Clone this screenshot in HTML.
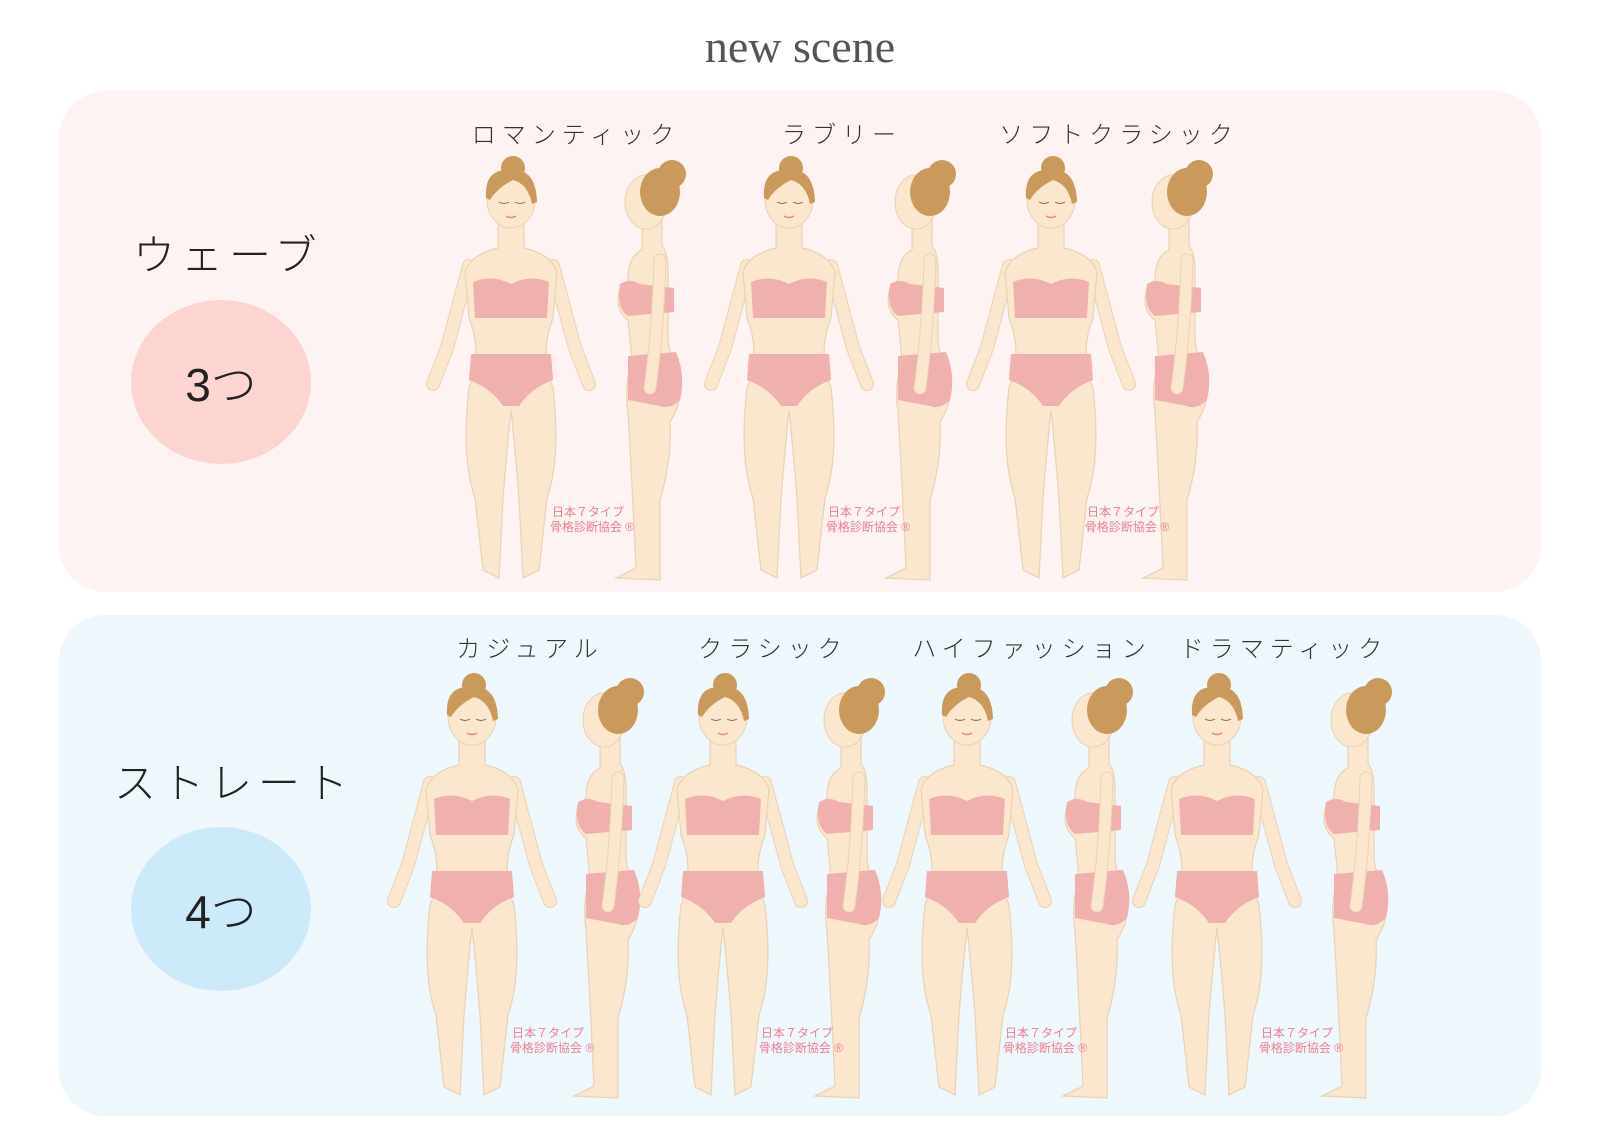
<!DOCTYPE html>
<html><head><meta charset="utf-8">
<style>
html,body{margin:0;padding:0;background:#fff;}
body{width:1600px;height:1131px;position:relative;overflow:hidden;font-family:"Liberation Sans","Noto Sans CJK JP",sans-serif;}
.title{position:absolute;left:0;width:1600px;top:20px;text-align:center;font-family:"Liberation Serif","Noto Serif CJK SC",serif;font-size:46px;color:#555;}
.panel{position:absolute;left:59px;width:1482px;border-radius:46px;}
.lab{position:absolute;font-size:24px;color:#333;letter-spacing:6px;white-space:nowrap;transform:translateX(-50%);font-weight:300;}
.big{position:absolute;font-size:42px;color:#222;letter-spacing:6px;white-space:nowrap;font-weight:300;}
.circ{position:absolute;border-radius:50%;display:flex;align-items:center;justify-content:center;font-size:46px;color:#222;font-weight:300;}
svg{position:absolute;left:0;top:0;}
</style></head><body>
<div class="title">new scene</div>
<div class="panel" style="top:91px;height:501px;background:#fdf3f2;"></div>
<div class="panel" style="top:615px;height:501px;background:#eef7fc;"></div>

<div class="big" style="left:133px;top:222px;">ウェーブ</div>
<div class="circ" style="left:131px;top:300px;width:180px;height:164px;background:#fcd5d0;">3つ</div>
<div class="big" style="left:114px;top:750px;">ストレート</div>
<div class="circ" style="left:131px;top:827px;width:180px;height:164px;background:#cdeafb;">4つ</div>

<div class="lab" style="left:576px;top:115px;">ロマンティック</div>
<div class="lab" style="left:842px;top:115px;">ラブリー</div>
<div class="lab" style="left:1119px;top:115px;">ソフトクラシック</div>
<div class="lab" style="left:530px;top:629px;">カジュアル</div>
<div class="lab" style="left:773px;top:629px;">クラシック</div>
<div class="lab" style="left:1032px;top:629px;">ハイファッション</div>
<div class="lab" style="left:1284px;top:629px;">ドラマティック</div>

<svg width="1600" height="1131" viewBox="0 0 1600 1131">
<defs>
<g id="front">
  <path d="M-42 108 Q-56 160 -64 190 L-78 226" fill="none" stroke="#ead2b4" stroke-width="14" stroke-linecap="round"/>
  <path d="M42 108 Q56 160 64 190 L78 226" fill="none" stroke="#ead2b4" stroke-width="14" stroke-linecap="round"/>
  <path d="M-42 108 Q-56 160 -64 190 L-78 226" fill="none" stroke="#fbe7cd" stroke-width="12" stroke-linecap="round"/>
  <path d="M42 108 Q56 160 64 190 L78 226" fill="none" stroke="#fbe7cd" stroke-width="12" stroke-linecap="round"/>
  <path d="M-13 62 L-13 90 Q-40 96 -46 114 L-42 160 Q-28 195 -42 230 Q-50 300 -36 340 L-28 412 L-12 420 L-8 340 Q-4 290 0 252 Q4 290 8 340 L12 420 L28 412 L36 340 Q50 300 42 230 Q28 195 42 160 L46 114 Q40 96 13 90 L13 62 Z" fill="#fbe7cd" stroke="#ead2b4" stroke-width="1.2"/>
  <path d="M-38 124 Q-19 116 0 126 Q19 116 38 124 L36 160 L-36 160 Z" fill="#f0b0ae"/>
  <path d="M-40 196 L40 196 L42 222 Q20 230 8 248 L-8 248 Q-20 230 -42 222 Z" fill="#f0b0ae"/>
  <ellipse cx="0" cy="42" rx="24" ry="28" fill="#fbe7cd" stroke="#ead2b4"/>
  <path d="M-25 40 Q-27 10 0 12 Q25 10 26 44 L21 46 Q17 26 2 22 Q-14 30 -21 42 Z" fill="#c99a5b"/>
  <circle cx="2" cy="10" r="12" fill="#c99a5b"/>
  <path d="M-12 44 q5 3 10 0 M4 44 q5 3 10 0" stroke="#8a6a50" fill="none" stroke-width="1"/>
  <path d="M-5 58 q5 3 10 0" stroke="#e08a88" fill="none" stroke-width="1.5"/>
</g>
<g id="side">
  <path d="M-8 62 L-8 90 Q-22 96 -22 120 L-30 128 Q-36 150 -22 160 L-18 200 Q-26 225 -22 252 Q-18 320 -14 408 L-34 418 L10 420 L10 340 Q22 300 20 262 Q34 240 30 214 Q20 200 18 180 L18 112 Q18 92 12 86 L12 60 Z" fill="#fbe7cd" stroke="#ead2b4" stroke-width="1.2"/>
  <path d="M-30 124 Q-20 118 -10 124 L24 128 L24 152 L-22 156 Q-34 148 -30 124 Z" fill="#f0b0ae"/>
  <path d="M-22 196 L26 192 Q36 215 30 240 Q20 250 10 246 L-22 240 Z" fill="#f0b0ae"/>
  <path d="M10 100 Q8 170 0 228" fill="none" stroke="#ead2b4" stroke-width="13" stroke-linecap="round"/>
  <path d="M10 100 Q8 170 0 228" fill="none" stroke="#fbe7cd" stroke-width="11" stroke-linecap="round"/>
  <ellipse cx="-4" cy="42" rx="21" ry="27" fill="#fbe7cd" stroke="#ead2b4"/>
  <ellipse cx="10" cy="32" rx="20" ry="24" fill="#c99a5b"/>
  <circle cx="22" cy="14" r="14" fill="#c99a5b"/>
</g>
<g id="wm">
  <text x="0" y="0" font-size="12" fill="#ec7f93" text-anchor="middle" font-family="Liberation Sans,Noto Sans CJK JP,sans-serif">日本７タイプ</text>
  <text x="4" y="15" font-size="12" fill="#ec7f93" text-anchor="middle" font-family="Liberation Sans,Noto Sans CJK JP,sans-serif">骨格診断協会 ®</text>
</g>
</defs>
<use href="#front" transform="translate(511,158)"/>
<use href="#side" transform="translate(650,160)"/>
<use href="#wm" transform="translate(588,516)"/>
<use href="#front" transform="translate(789,158)"/>
<use href="#side" transform="translate(920,160)"/>
<use href="#wm" transform="translate(864,516)"/>
<use href="#front" transform="translate(1051,158)"/>
<use href="#side" transform="translate(1177,160)"/>
<use href="#wm" transform="translate(1123,516)"/>

<use href="#front" transform="translate(472,675)"/>
<use href="#side" transform="translate(608,678)"/>
<use href="#wm" transform="translate(548,1037)"/>
<use href="#front" transform="translate(723,675)"/>
<use href="#side" transform="translate(849,678)"/>
<use href="#wm" transform="translate(797,1037)"/>
<use href="#front" transform="translate(967,675)"/>
<use href="#side" transform="translate(1097,678)"/>
<use href="#wm" transform="translate(1041,1037)"/>
<use href="#front" transform="translate(1217,675)"/>
<use href="#side" transform="translate(1356,678)"/>
<use href="#wm" transform="translate(1297,1037)"/>
</svg>
</body></html>
